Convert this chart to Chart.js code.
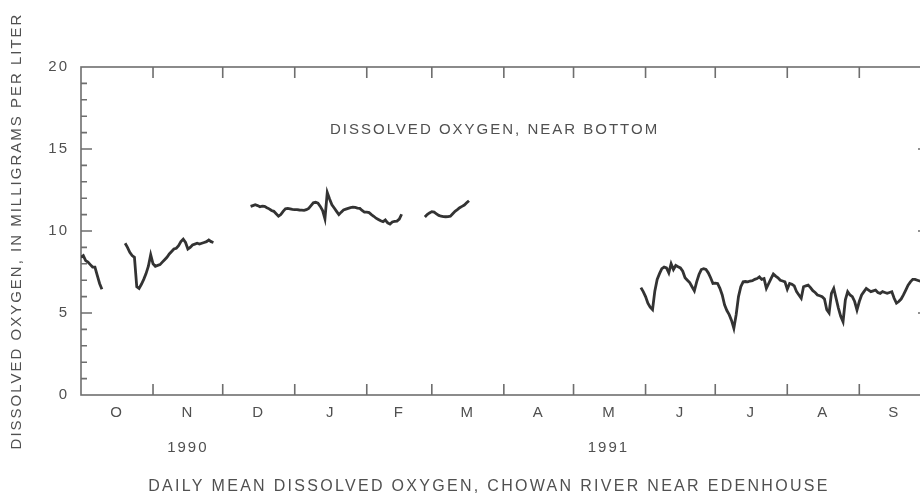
<!DOCTYPE html>
<html>
<head>
<meta charset="utf-8">
<script src="https://cdn.jsdelivr.net/npm/chart.js@4.4.1/dist/chart.umd.min.js"></script>
<style>
  html, body { margin: 0; padding: 0; background: #fff; overflow: hidden; }
  #doChart { display: block; }
</style>
</head>
<body>
<canvas id="doChart" width="940" height="494"></canvas>
<script>
// x values are days since Oct 1, 1990 (water year 1991)
const monthLabels = ['O', 'N', 'D', 'J', 'F', 'M', 'A', 'M', 'J', 'J', 'A', 'S'];
const monthStartDays = [0, 31, 61, 92, 123, 151, 182, 212, 243, 273, 304, 335, 365];
const yearLabels = ['1990', '1991'];
const yearLabelDays = [46, 227];

// daily mean dissolved oxygen, mg/L -- one array per unbroken record
const octStart = 0;
const octValues = [8.4, 8.5, 8.2, 8.1, 7.95, 7.8, 7.8, 7.3, 6.8, 6.45];

const fallStart = 19;
const fallValues = [9.25, 9.0, 8.7, 8.5, 8.4, 6.6, 6.5, 6.75, 7.05, 7.4, 7.85, 8.55, 8.0, 7.85,
    7.9, 7.95, 8.1, 8.25, 8.4, 8.6, 8.75, 8.9, 8.95, 9.1, 9.35, 9.5, 9.3, 8.9, 9.0, 9.15,
    9.2, 9.25, 9.2, 9.25, 9.3, 9.35, 9.45, 9.35, 9.3];

const winterStart = 73;
const winterValues = [11.5, 11.55, 11.6, 11.55, 11.48, 11.52, 11.5, 11.42, 11.35, 11.25, 11.2,
    11.05, 10.9, 11.0, 11.2, 11.35, 11.38, 11.35, 11.32, 11.3, 11.3, 11.28, 11.27, 11.26, 11.3,
    11.38, 11.55, 11.72, 11.75, 11.7, 11.5, 11.25, 10.75, 12.35, 11.95, 11.6, 11.4, 11.2, 11.0,
    11.15, 11.28, 11.33, 11.38, 11.42, 11.45, 11.44, 11.4, 11.38, 11.25, 11.15, 11.15, 11.12,
    11.0, 10.9, 10.78, 10.7, 10.62, 10.57, 10.67, 10.5, 10.42, 10.55, 10.58, 10.6, 10.72, 11.02];

const marchStart = 148;
const marchValues = [10.85, 11.0, 11.1, 11.18, 11.15, 11.05, 10.95, 10.9, 10.88, 10.87, 10.88,
    10.9, 11.05, 11.2, 11.3, 11.42, 11.5, 11.58, 11.72, 11.85];

const summerStart = 241;
const summerValues = [6.55, 6.3, 6.0, 5.6, 5.35, 5.2, 6.35, 7.05, 7.4, 7.7, 7.8, 7.75, 7.45, 8.0,
    7.65, 7.9, 7.82, 7.75, 7.55, 7.15, 7.0, 6.85, 6.6, 6.35, 6.9, 7.35, 7.65, 7.7, 7.65, 7.45,
    7.15, 6.8, 6.82, 6.8, 6.5, 6.1, 5.5, 5.15, 4.9, 4.55, 4.07, 4.9, 6.0, 6.6, 6.9, 6.92, 6.9,
    6.95, 6.97, 7.05, 7.1, 7.2, 7.05, 7.1, 6.5, 6.8, 7.1, 7.38, 7.25, 7.15, 7.0, 6.95, 6.9, 6.45,
    6.8, 6.75, 6.65, 6.3, 6.1, 5.9, 6.6, 6.65, 6.7, 6.55, 6.36, 6.25, 6.1, 6.05, 5.99, 5.85, 5.2,
    5.0, 6.2, 6.5, 5.9, 5.3, 4.8, 4.47, 5.8, 6.3, 6.1, 6.0, 5.7, 5.18, 5.7, 6.1, 6.3, 6.5, 6.4,
    6.3, 6.35, 6.4, 6.25, 6.2, 6.3, 6.25, 6.2, 6.25, 6.3, 5.9, 5.6, 5.7, 5.85, 6.1, 6.4, 6.7,
    6.9, 7.05, 7.05, 7.0, 6.95, 6.9, 6.9, 6.95];

const yMax = 20;
const yMajorStep = 5;
const yMinorStep = 1;

const textColor = '#505050';
const frameColor = '#6e6e6e';
const fontFamily = "'Liberation Sans', Arial, sans-serif";

function buildPoints() {
    const segments = [
        [octStart, octValues],
        [fallStart, fallValues],
        [winterStart, winterValues],
        [marchStart, marchValues],
        [summerStart, summerValues]
    ];
    const points = [];
    segments.forEach(([start, values]) => {
        values.forEach((v, i) => points.push({ x: start + i, y: v }));
        // break the line between records
        points.push({ x: start + values.length - 0.5, y: null });
    });
    return points;
}

const monthMidDays = monthLabels.map((m, i) => (monthStartDays[i] + monthStartDays[i + 1]) / 2);

// frame with inward tick marks, placed through the chart's scales
const framePlugin = {
    id: 'frame',
    beforeDraw(chart) {
        chart.ctx.letterSpacing = '2px';
    },
    beforeDatasetsDraw(chart) {
        const { ctx, chartArea: a, scales: { x, y } } = chart;
        ctx.save();
        ctx.strokeStyle = frameColor;
        ctx.lineWidth = 1.6;
        ctx.strokeRect(a.left, a.top, a.right - a.left, a.bottom - a.top);
        ctx.beginPath();
        monthStartDays.slice(1, -1).forEach(d => {
            const px = x.getPixelForValue(d);
            ctx.moveTo(px, a.bottom);
            ctx.lineTo(px, a.bottom - 11);
            ctx.moveTo(px, a.top);
            ctx.lineTo(px, a.top + 11);
        });
        for (let v = yMinorStep; v < yMax; v += yMinorStep) {
            const py = y.getPixelForValue(v);
            const len = v % yMajorStep === 0 ? 11 : 6;
            ctx.moveTo(a.left, py);
            ctx.lineTo(a.left + len, py);
            ctx.moveTo(a.right, py);
            ctx.lineTo(a.right - len, py);
        }
        ctx.stroke();
        ctx.restore();
    },
    afterDraw(chart) {
        const { ctx, scales: { x, y } } = chart;
        ctx.save();
        ctx.fillStyle = textColor;
        ctx.textAlign = 'center';
        ctx.textBaseline = 'middle';
        ctx.letterSpacing = '2px';
        ctx.font = '15px ' + fontFamily;
        ctx.fillText('DISSOLVED OXYGEN, NEAR BOTTOM', x.getPixelForValue(178), y.getPixelForValue(16.15));
        // caption sits a little left of the axis centre in the original
        ctx.letterSpacing = '2.3px';
        ctx.font = '16px ' + fontFamily;
        ctx.fillText('DAILY MEAN DISSOLVED OXYGEN, CHOWAN RIVER NEAR EDENHOUSE', 489, 487);
        ctx.restore();
    }
};

const ctx = document.getElementById('doChart').getContext('2d');
new Chart(ctx, {
    type: 'line',
    data: {
        datasets: [{
            label: 'Dissolved oxygen, near bottom',
            data: buildPoints(),
            borderColor: '#333333',
            borderWidth: 2.8,
            pointRadius: 0,
            tension: 0,
            spanGaps: false
        }]
    },
    options: {
        responsive: false,
        animation: false,
        layout: { padding: { top: 67, right: 11, bottom: 0, left: 0 } },
        plugins: {
            legend: { display: false },
            tooltip: { enabled: false }
        },
        scales: {
            x: {
                type: 'linear',
                position: 'bottom',
                min: 0,
                max: 365,
                grid: { display: false, drawTicks: false },
                border: { display: false },
                afterBuildTicks: s => { s.ticks = monthMidDays.map(v => ({ value: v })); },
                afterFit: s => { s.height = 27; },
                ticks: {
                    autoSkip: false,
                    maxRotation: 0,
                    padding: 9,
                    color: textColor,
                    font: { family: fontFamily, size: 15 },
                    callback: (v, i) => monthLabels[i]
                }
            },
            x2: {
                type: 'linear',
                position: 'bottom',
                min: 0,
                max: 365,
                grid: { display: false, drawTicks: false },
                border: { display: false },
                afterBuildTicks: s => { s.ticks = yearLabelDays.map(v => ({ value: v })); },
                afterFit: s => { s.height = 72; },
                ticks: {
                    autoSkip: false,
                    maxRotation: 0,
                    padding: 17,
                    color: textColor,
                    font: { family: fontFamily, size: 15 },
                    callback: (v, i) => yearLabels[i]
                }
            },
            y: {
                type: 'linear',
                min: 0,
                max: yMax,
                grid: { display: false, drawTicks: false },
                border: { display: false },
                afterFit: s => { s.width = 81; },
                ticks: {
                    stepSize: yMajorStep,
                    padding: 12,
                    color: textColor,
                    font: { family: fontFamily, size: 15 }
                },
                title: {
                    display: true,
                    text: 'DISSOLVED OXYGEN, IN MILLIGRAMS PER LITER',
                    color: textColor,
                    font: { family: fontFamily, size: 15 },
                    padding: { top: 8, bottom: 0 }
                }
            }
        }
    },
    plugins: [framePlugin]
});
</script>
</body>
</html>
